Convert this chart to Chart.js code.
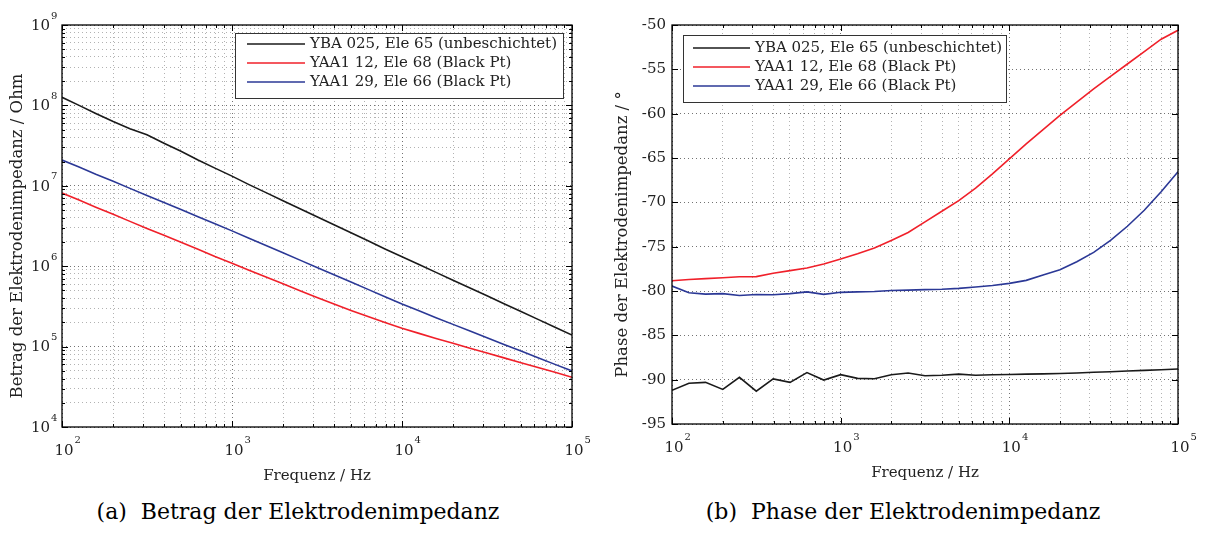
<!DOCTYPE html>
<html><head><meta charset="utf-8">
<script src="https://cdn.jsdelivr.net/npm/chart.js@4"></script>
<style>
html,body{margin:0;padding:0;background:#fff;width:1206px;height:535px;overflow:hidden}
.box{position:absolute;top:0;height:495px}
#L{left:0;width:600px}
#R{left:600px;width:606px}
.cap{position:absolute;top:499px;font-family:"DejaVu Serif",serif;font-size:22px;color:#000;white-space:nowrap;transform:translateX(-50%)}
</style></head><body>
<div class="box" id="L"><canvas id="cL"></canvas></div>
<div class="box" id="R"><canvas id="cR"></canvas></div>
<div class="cap" style="left:298px">(a)&nbsp; Betrag der Elektrodenimpedanz</div>
<div class="cap" style="left:903px">(b)&nbsp; Phase der Elektrodenimpedanz</div>
<script>
// ---- data ----
const frequencies = [100,126,158,200,251,316,398,501,631,794,1000,1259,1585,1995,2512,3162,3981,5012,6310,7943,10000,12589,15849,19953,25119,31623,39811,50119,63096,79433,100000];
const seriesNames = ['YBA 025, Ele 65 (unbeschichtet)','YAA1 12, Ele 68 (Black Pt)','YAA1 29, Ele 66 (Black Pt)'];
const seriesColors = ['#1a1a1a','#f0202a','#2b3896'];
// |Z| in Ohm
const magYBA025 = [1.26e8,1.0e8,7.94e7,6.31e7,5.13e7,4.32e7,3.39e7,2.69e7,2.09e7,1.66e7,1.32e7,1.035e7,8.22e6,6.53e6,5.19e6,4.12e6,3.27e6,2.60e6,2.07e6,1.64e6,1.31e6,1.05e6,8.38e5,6.70e5,5.35e5,4.28e5,3.42e5,2.73e5,2.18e5,1.74e5,1.39e5];
const magYAA1_12 = [8.13e6,6.64e6,5.42e6,4.43e6,3.61e6,2.95e6,2.42e6,1.98e6,1.62e6,1.32e6,1.09e6,8.91e5,7.33e5,6.03e5,4.95e5,4.09e5,3.39e5,2.82e5,2.36e5,1.99e5,1.69e5,1.46e5,1.26e5,1.10e5,9.55e4,8.32e4,7.24e4,6.31e4,5.50e4,4.79e4,4.15e4];
const magYAA1_29 = [2.09e7,1.71e7,1.39e7,1.14e7,9.29e6,7.59e6,6.19e6,5.06e6,4.13e6,3.37e6,2.75e6,2.23e6,1.81e6,1.47e6,1.19e6,9.66e5,7.83e5,6.35e5,5.15e5,4.18e5,3.39e5,2.79e5,2.29e5,1.89e5,1.56e5,1.29e5,1.06e5,8.79e4,7.26e4,6.01e4,4.98e4];
// phase in degrees
const phaseYBA025 = [-91.2,-90.4,-90.3,-91.1,-89.74,-91.3,-89.92,-90.3,-89.2,-90.04,-89.44,-89.85,-89.9,-89.44,-89.25,-89.55,-89.5,-89.38,-89.5,-89.45,-89.42,-89.38,-89.35,-89.3,-89.25,-89.17,-89.1,-89.02,-88.95,-88.88,-88.8];
const phaseYAA1_12 = [-78.84,-78.7,-78.6,-78.5,-78.4,-78.38,-78.0,-77.7,-77.4,-76.95,-76.4,-75.8,-75.15,-74.3,-73.4,-72.2,-71.0,-69.8,-68.4,-66.8,-65.1,-63.4,-61.8,-60.2,-58.7,-57.2,-55.8,-54.4,-53.0,-51.6,-50.6];
const phaseYAA1_29 = [-79.44,-80.2,-80.35,-80.3,-80.5,-80.4,-80.42,-80.3,-80.1,-80.38,-80.15,-80.1,-80.05,-79.95,-79.9,-79.85,-79.8,-79.7,-79.55,-79.38,-79.14,-78.8,-78.2,-77.6,-76.7,-75.64,-74.3,-72.7,-70.9,-68.8,-66.55];
// ticks
const xDecades = [2,3,4,5];
const magDecades = [4,5,6,7,8,9];
const phaseTicks = [-95,-90,-85,-80,-75,-70,-65,-60,-55,-50];
const xTitle = 'Frequenz / Hz';
const magTitle = 'Betrag der Elektrodenimpedanz / Ohm';
const phaseTitle = 'Phase der Elektrodenimpedanz / °';

const FONT = '"DejaVu Serif", serif';

function logTickValues(decs){
  const out=[];
  for(let i=0;i<decs.length;i++){
    const d=decs[i];
    out.push(Math.pow(10,d));
    if(i<decs.length-1) for(let m=2;m<=9;m++) out.push(m*Math.pow(10,d));
  }
  return out;
}
function isDecade(v){const l=Math.log10(v);return Math.abs(l-Math.round(l))<1e-9;}

function makeDatasets(arrs){
  return arrs.map((arr,k)=>({
    label: seriesNames[k],
    data: frequencies.map((f,i)=>({x:f,y:arr[i]})),
    borderColor: seriesColors[k],
    borderWidth: 1.6,
    pointRadius: 0,
    tension: 0,
    fill: false
  }));
}

function gridColor(ctx){
  const v = ctx.tick ? ctx.tick.value : 0;
  return isDecade(v) ? 'rgba(0,0,0,0.55)' : 'rgba(0,0,0,0.3)';
}

function decor(opts){
  return {
    id:'decor'+opts.id,
    afterDraw(chart){
      const ctx=chart.ctx, a=chart.chartArea, xs=chart.scales.x, ys=chart.scales.y;
      ctx.save();
      // inward ticks
      ctx.strokeStyle='#000'; ctx.lineWidth=1;
      ctx.beginPath();
      xs.ticks.forEach(t=>{
        const px=Math.round(xs.getPixelForValue(t.value))+0.5;
        const L=isDecade(t.value)?6:3;
        ctx.moveTo(px,a.bottom); ctx.lineTo(px,a.bottom-L);
        ctx.moveTo(px,a.top); ctx.lineTo(px,a.top+L);
      });
      ys.ticks.forEach(t=>{
        const py=Math.round(ys.getPixelForValue(t.value))+0.5;
        const L=(opts.ylog && !isDecade(t.value))?3:6;
        ctx.moveTo(a.left,py); ctx.lineTo(a.left+L,py);
        ctx.moveTo(a.right,py); ctx.lineTo(a.right-L,py);
      });
      ctx.stroke();
      // frame
      ctx.lineWidth=1.3;
      ctx.strokeRect(a.left,a.top,a.right-a.left,a.bottom-a.top);
      // x tick labels 10^n
      ctx.fillStyle='#222';
      ctx.textBaseline='middle';
      xDecades.forEach(d=>{
        const px=xs.getPixelForValue(Math.pow(10,d));
        ctx.font='15px '+FONT;
        ctx.textAlign='center';
        const w=ctx.measureText('10').width;
        ctx.fillText('10',px+2,a.bottom+24);
        ctx.font='10px '+FONT;
        ctx.textAlign='left';
        ctx.fillText(String(d),px+2+w/2+1,a.bottom+13);
      });
      // y tick labels
      if(opts.ylog){
        magDecades.forEach(d=>{
          const py=ys.getPixelForValue(Math.pow(10,d));
          ctx.font='15px '+FONT; ctx.textAlign='right';
          ctx.fillText('10',a.left-12,py+1);
          ctx.font='10px '+FONT; ctx.textAlign='left';
          ctx.fillText(String(d),a.left-11,py-9);
        });
      } else {
        phaseTicks.forEach(v=>{
          const py=ys.getPixelForValue(v);
          ctx.font='15px '+FONT; ctx.textAlign='right';
          ctx.fillText(String(v),a.left-6,py);
        });
      }
      // axis titles
      ctx.font='15px '+FONT; ctx.textAlign='center'; ctx.textBaseline='middle';
      ctx.fillText(xTitle,(a.left+a.right)/2,a.bottom+49);
      ctx.save();
      ctx.font='16.5px '+FONT;
      ctx.translate(opts.ytitleX,(a.top+a.bottom)/2+10);
      ctx.rotate(-Math.PI/2);
      ctx.fillText(opts.ytitle,0,0);
      ctx.restore();
      // legend
      const lg=opts.legend;
      ctx.fillStyle='#fff';
      ctx.fillRect(lg.x,lg.y,lg.w,lg.h);
      ctx.strokeStyle='#333'; ctx.lineWidth=1;
      ctx.strokeRect(lg.x+0.5,lg.y+0.5,lg.w,lg.h);
      chart.data.datasets.forEach((ds,i)=>{
        const y=lg.y+lg.r0+i*lg.dr;
        ctx.strokeStyle=ds.borderColor; ctx.lineWidth=1.6;
        ctx.beginPath(); ctx.moveTo(lg.x+lg.s0,y); ctx.lineTo(lg.x+lg.s1,y); ctx.stroke();
        ctx.fillStyle='#222'; ctx.font='15px '+FONT; ctx.textAlign='left'; ctx.textBaseline='middle';
        ctx.fillText(ds.label,lg.x+lg.tx,y);
      });
      ctx.restore();
    }
  };
}

function xScale(h){
  return {
    type:'logarithmic', min:100, max:100000,
    afterBuildTicks:s=>{s.ticks=logTickValues(xDecades).map(v=>({value:v}));},
    ticks:{display:false, autoSkip:false},
    grid:{color:gridColor, drawTicks:false, lineWidth:1},
    border:{display:false, dash:[1,3]},
    afterFit:s=>{s.height=h;}
  };
}

// Left chart
new Chart(document.getElementById('cL'),{
  type:'line',
  data:{datasets:makeDatasets([magYBA025,magYAA1_12,magYAA1_29])},
  options:{
    responsive:true, maintainAspectRatio:false, animation:false, devicePixelRatio:1,
    layout:{padding:{left:0,top:25,right:28,bottom:25}},
    plugins:{legend:{display:false},tooltip:{enabled:false}},
    scales:{
      x:xScale(43),
      y:{
        type:'logarithmic', min:1e4, max:1e9,
        afterBuildTicks:s=>{s.ticks=logTickValues(magDecades).map(v=>({value:v}));},
        ticks:{display:false, autoSkip:false},
        grid:{color:gridColor, drawTicks:false, lineWidth:1},
        border:{display:false, dash:[1,3]},
        afterFit:s=>{s.width=62;}
      }
    }
  },
  plugins:[decor({id:'L', ylog:true, ytitle:magTitle, ytitleX:18,
    legend:{x:235,y:33,w:328,h:65,r0:11,dr:19,s0:12,s1:70,tx:75}})]
});

// Right chart
new Chart(document.getElementById('cR'),{
  type:'line',
  data:{datasets:makeDatasets([phaseYBA025,phaseYAA1_12,phaseYAA1_29])},
  options:{
    responsive:true, maintainAspectRatio:false, animation:false, devicePixelRatio:1,
    layout:{padding:{left:0,top:25,right:28,bottom:25}},
    plugins:{legend:{display:false},tooltip:{enabled:false}},
    scales:{
      x:xScale(46),
      y:{
        type:'linear', min:-95, max:-50,
        afterBuildTicks:s=>{s.ticks=phaseTicks.map(v=>({value:v}));},
        ticks:{display:false},
        grid:{color:'rgba(0,0,0,0.55)', drawTicks:false, lineWidth:1},
        border:{display:false, dash:[1,3]},
        afterFit:s=>{s.width=72;}
      }
    }
  },
  plugins:[decor({id:'R', ylog:false, ytitle:phaseTitle, ytitleX:23,
    legend:{x:83,y:35,w:323,h:67,r0:13,dr:19,s0:10,s1:67,tx:72}})]
});
</script>
</body></html>
